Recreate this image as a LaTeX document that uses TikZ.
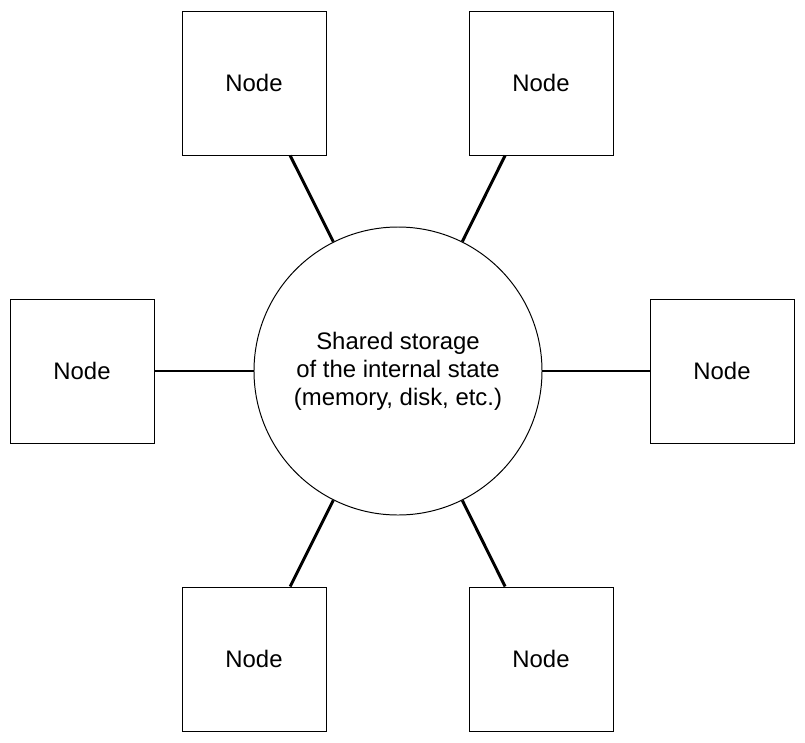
\documentclass[tikz,border=0pt]{standalone}
\usepackage{fontspec}
\setmainfont{Liberation Sans}
\usetikzlibrary{calc, positioning}
\tikzset{
    nodebox/.style = {draw, rectangle, line width=0.7pt, minimum size=3.6cm, inner sep=0em, 
      font=\fontsize{17}{20}\selectfont},
    storagenode/.style = {draw, circle, line width=0.7pt, minimum size=7.2cm, inner sep=0em, 
      font=\fontsize{17}{19.9}\selectfont},
    connect/.style = {black, line width=2.1pt},
    every text node part/.style={align=center}
}
\begin{document}
\begin{tikzpicture}
    \useasboundingbox (-9.95,-9.275) rectangle (10.175,9.275);
    \node [storagenode, name=storage] at (0,0) {Shared storage\\of the internal state\\(memory, disk, etc.)};

    \node [nodebox, name=topleft] at (-3.6,7.2) {Node};
    \node [nodebox, name=topright] at (3.575,7.2) {Node};
    \node [nodebox, name=left] at (-7.9,0) {Node};
    \node [nodebox, name=right] at (8.1,0) {Node};
    \node [nodebox, name=bottomleft] at (-3.6,-7.2) {Node};
    \node [nodebox, name=bottomright] at (3.575,-7.2) {Node};

    \draw [connect] (storage) -- (topleft);
    \draw [connect] (storage) -- (topright);
    \draw [connect] (storage) -- (left);
    \draw [connect] (storage) -- (right);
    \draw [connect] (storage) -- (bottomleft);
    \draw [connect] (storage) -- (bottomright);
\end{tikzpicture}
\end{document}
